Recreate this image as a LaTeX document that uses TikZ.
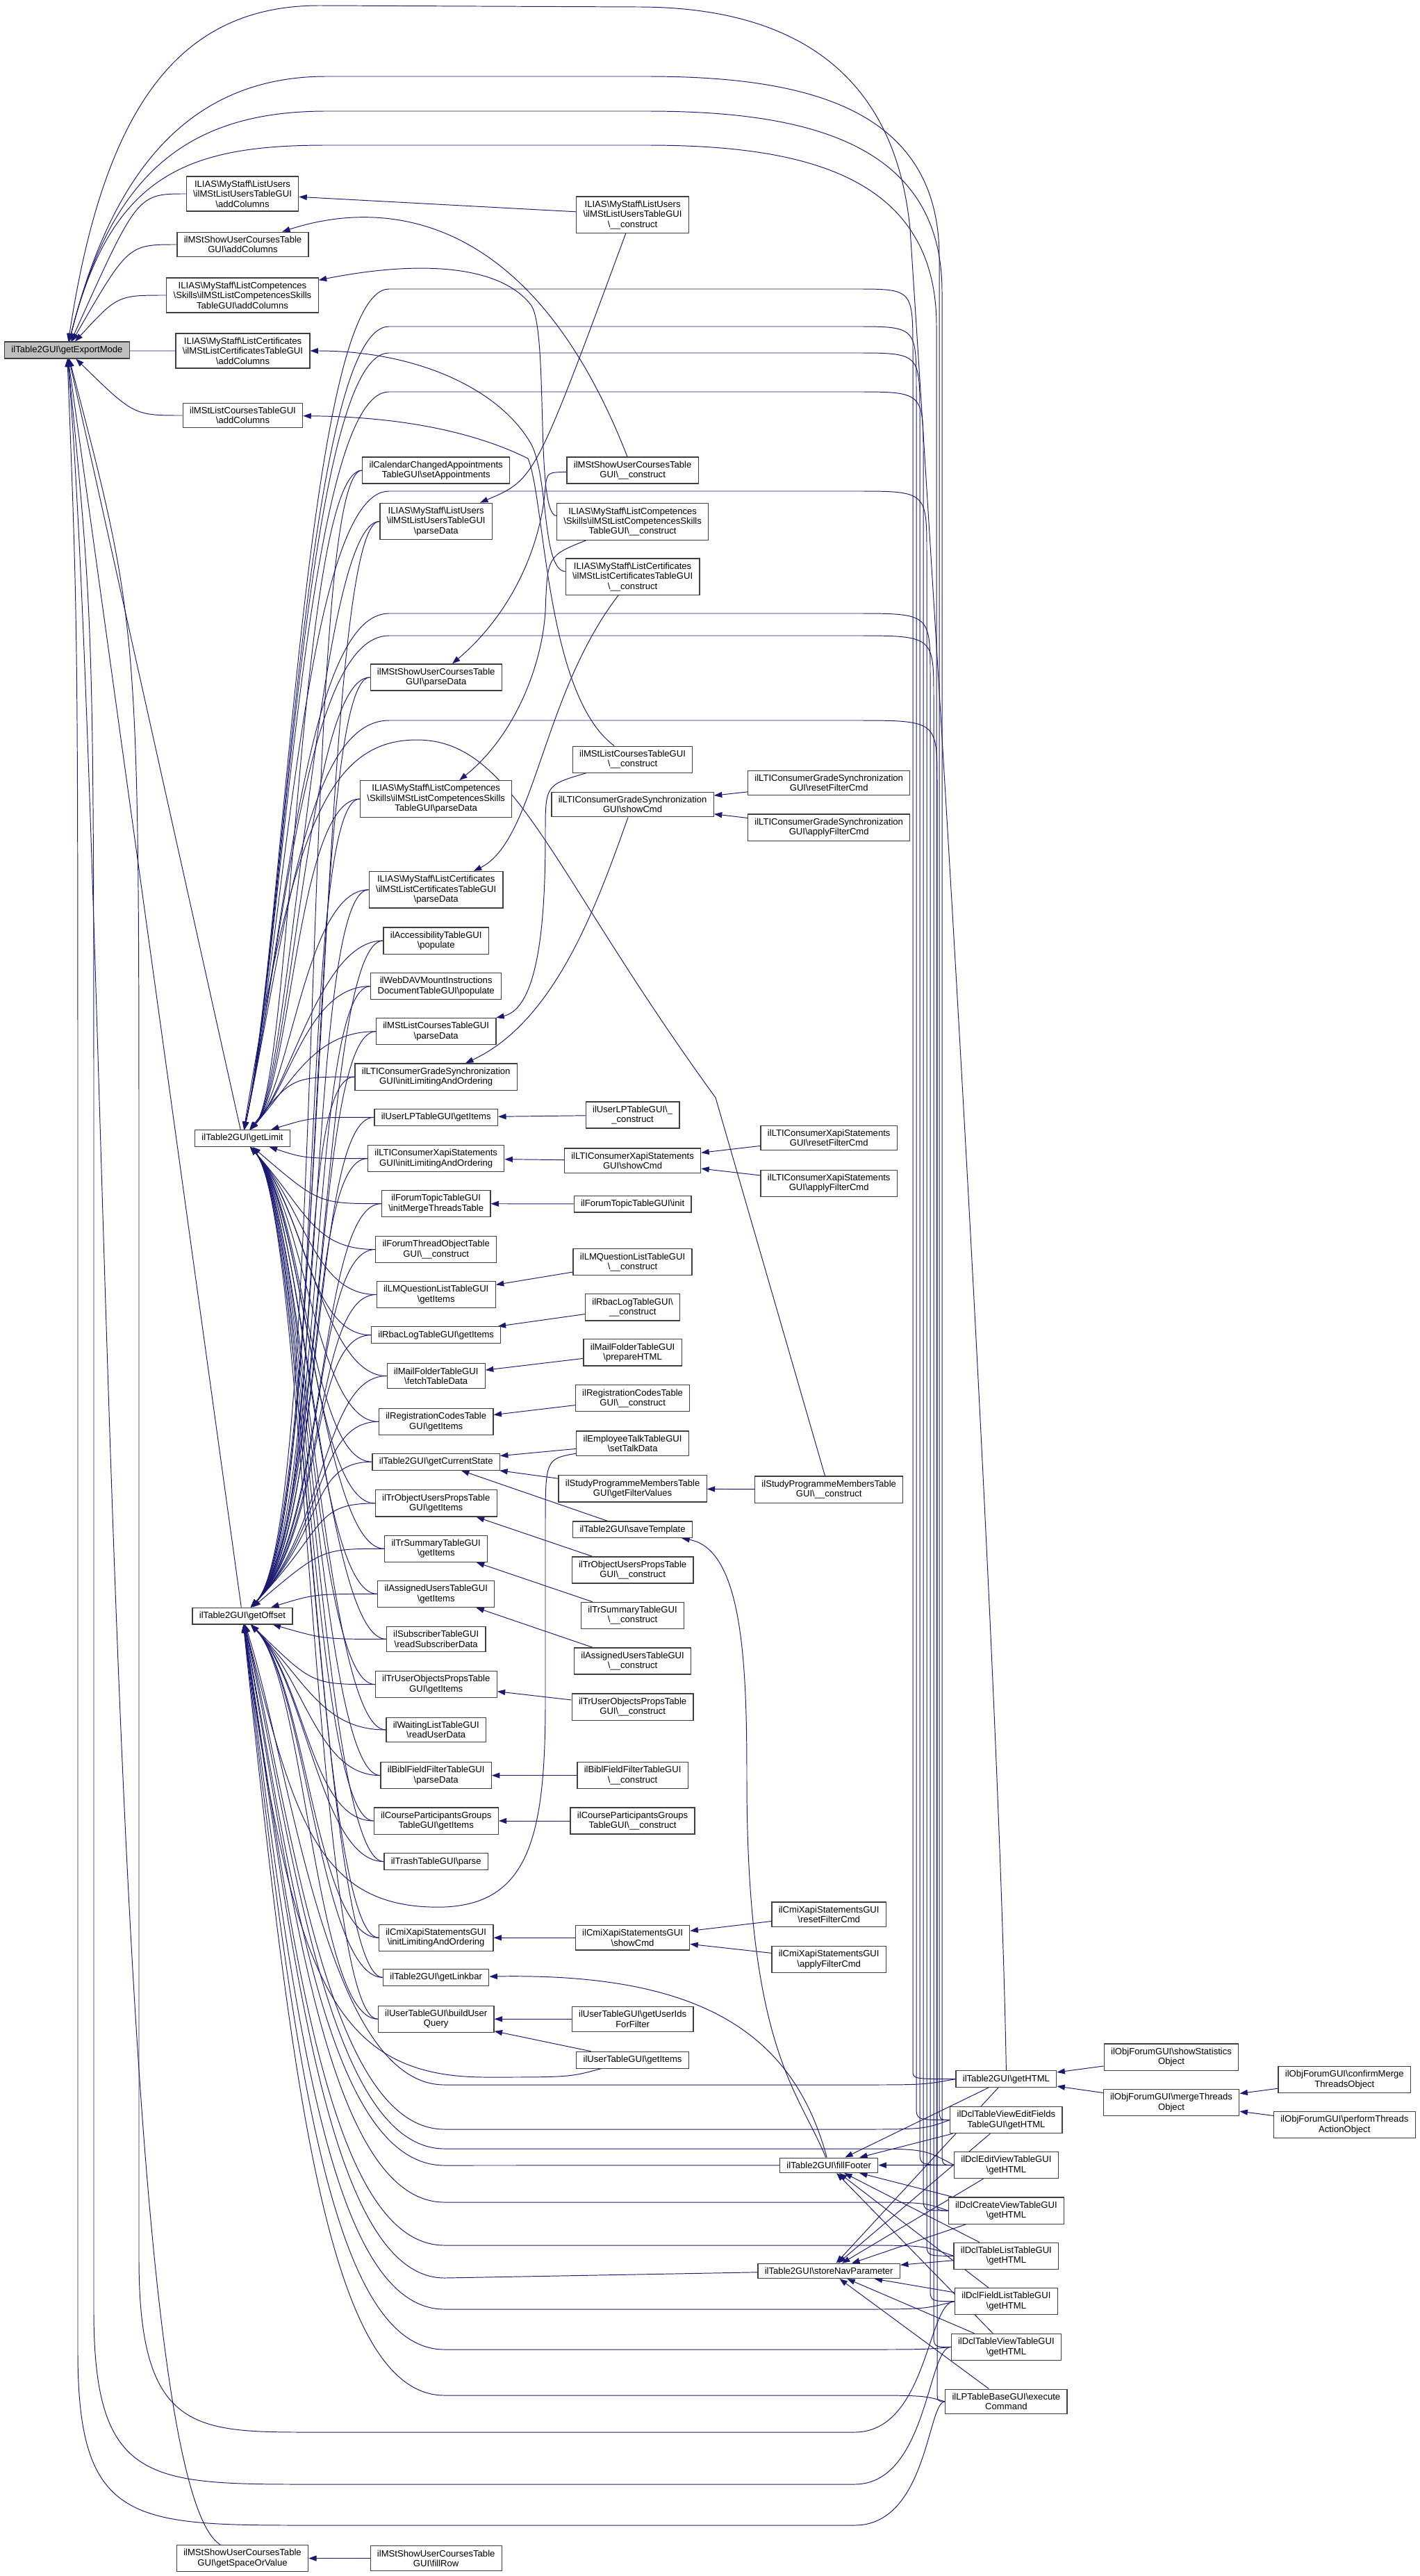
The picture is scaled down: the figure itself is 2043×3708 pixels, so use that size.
\documentclass[tikz,border=0pt]{standalone}
\usepackage{fontspec}
\setmainfont{Liberation Sans}
\usetikzlibrary{arrows.meta,calc}
\definecolor{EdgeClr}{RGB}{25,25,112}
\definecolor{BoxClr}{RGB}{64,64,64}
\definecolor{RootClr}{RGB}{191,191,191}
\newcommand{\bsl}{\textbackslash}
\pgfdeclarelayer{edges}
\pgfsetlayers{edges,main}

\begin{document}
\begin{tikzpicture}[x=0.02cm,y=-0.02cm,
  fn/.style={draw=BoxClr,line width=0.7pt,fill=white,align=center,
    inner xsep=5.6pt,inner ysep=3.3pt,font=\fontsize{7.45pt}{8.2pt}\selectfont},
  root/.style={fn,fill=RootClr},
  call/.style={draw=EdgeClr,line width=0.55pt,{Triangle[length=6.5pt,width=4.6pt]}-}]
\useasboundingbox (0,0) rectangle (2043,3708);

% root and first callers
\node[root] (exp) at (96.5,504) {ilTable2GUI\bsl getExportMode};
\node[fn] (luAdd) at (349,279) {ILIAS\bsl MyStaff\bsl ListUsers\\\bsl ilMStListUsersTableGUI\\\bsl addColumns};
\node[fn] (sucAdd) at (349.5,352) {ilMStShowUserCoursesTable\\GUI\bsl addColumns};
\node[fn] (compAdd) at (349,425) {ILIAS\bsl MyStaff\bsl ListCompetences\\\bsl Skills\bsl ilMStListCompetencesSkills\\TableGUI\bsl addColumns};
\node[fn] (certAdd) at (349.5,505) {ILIAS\bsl MyStaff\bsl ListCertificates\\\bsl ilMStListCertificatesTableGUI\\\bsl addColumns};
\node[fn] (lcAdd) at (349.5,598) {ilMStListCoursesTableGUI\\\bsl addColumns};
\node[fn] (limit) at (349,1638.5) {ilTable2GUI\bsl getLimit};
\node[fn] (offset) at (349,2326) {ilTable2GUI\bsl getOffset};
\node[fn] (space) at (349,3682.5) {ilMStShowUserCoursesTable\\GUI\bsl getSpaceOrValue};

% second column
\node[fn] (cal) at (627.7,677) {ilCalendarChangedAppointments\\TableGUI\bsl setAppointments};
\node[fn] (luParse) at (627.7,750.5) {ILIAS\bsl MyStaff\bsl ListUsers\\\bsl ilMStListUsersTableGUI\\\bsl parseData};
\node[fn] (sucParse) at (627.7,975) {ilMStShowUserCoursesTable\\GUI\bsl parseData};
\node[fn] (compParse) at (627.7,1150) {ILIAS\bsl MyStaff\bsl ListCompetences\\\bsl Skills\bsl ilMStListCompetencesSkills\\TableGUI\bsl parseData};
\node[fn] (certParse) at (627.7,1280.7) {ILIAS\bsl MyStaff\bsl ListCertificates\\\bsl ilMStListCertificatesTableGUI\\\bsl parseData};
\node[fn] (access) at (627.7,1354) {ilAccessibilityTableGUI\\\bsl populate};
\node[fn] (webdav) at (627.7,1419.6) {ilWebDAVMountInstructions\\DocumentTableGUI\bsl populate};
\node[fn] (lcParse) at (627.7,1484.7) {ilMStListCoursesTableGUI\\\bsl parseData};
\node[fn] (ltigInit) at (627.7,1550) {ilLTIConsumerGradeSynchronization\\GUI\bsl initLimitingAndOrdering};
\node[fn] (ulpItems) at (627.7,1608.3) {ilUserLPTableGUI\bsl getItems};
\node[fn] (ltixInit) at (627.7,1667.6) {ilLTIConsumerXapiStatements\\GUI\bsl initLimitingAndOrdering};
\node[fn] (ftInit) at (627.7,1732.6) {ilForumTopicTableGUI\\\bsl initMergeThreadsTable};
\node[fn] (fto) at (627.7,1798.5) {ilForumThreadObjectTable\\GUI\bsl\_\_construct};
\node[fn] (lmqItems) at (627.7,1863.5) {ilLMQuestionListTableGUI\\\bsl getItems};
\node[fn] (rbacItems) at (627.7,1921.7) {ilRbacLogTableGUI\bsl getItems};
\node[fn] (mailFetch) at (627.7,1980.6) {ilMailFolderTableGUI\\\bsl fetchTableData};
\node[fn] (regItems) at (627.7,2046.4) {ilRegistrationCodesTable\\GUI\bsl getItems};
\node[fn] (curState) at (627.7,2104.2) {ilTable2GUI\bsl getCurrentState};
\node[fn] (trouItems) at (627.7,2163.9) {ilTrObjectUsersPropsTable\\GUI\bsl getItems};
\node[fn] (trsItems) at (627.7,2229.3) {ilTrSummaryTableGUI\\\bsl getItems};
\node[fn] (auItems) at (627.7,2294.4) {ilAssignedUsersTableGUI\\\bsl getItems};
\node[fn] (subs) at (627.7,2359.4) {ilSubscriberTableGUI\\\bsl readSubscriberData};
\node[fn] (truoItems) at (627.7,2424.6) {ilTrUserObjectsPropsTable\\GUI\bsl getItems};
\node[fn] (wait) at (627.7,2490) {ilWaitingListTableGUI\\\bsl readUserData};
\node[fn] (biblParse) at (627.7,2555.6) {ilBiblFieldFilterTableGUI\\\bsl parseData};
\node[fn] (cpgItems) at (627.7,2621) {ilCourseParticipantsGroups\\TableGUI\bsl getItems};
\node[fn] (trash) at (627.7,2679.6) {ilTrashTableGUI\bsl parse};
\node[fn] (cmiInit) at (627.7,2789.2) {ilCmiXapiStatementsGUI\\\bsl initLimitingAndOrdering};
\node[fn] (linkbar) at (627.7,2846.4) {ilTable2GUI\bsl getLinkbar};
\node[fn] (userBuild) at (627.7,2906.3) {ilUserTableGUI\bsl buildUser\\Query};
\node[fn] (fillrow) at (627.7,3682.5) {ilMStShowUserCoursesTable\\GUI\bsl fillRow};

% third column
\node[fn] (luCon) at (910.6,309.2) {ILIAS\bsl MyStaff\bsl ListUsers\\\bsl ilMStListUsersTableGUI\\\bsl\_\_construct};
\node[fn] (sucCon) at (910.6,677) {ilMStShowUserCoursesTable\\GUI\bsl\_\_construct};
\node[fn] (compCon) at (910.6,751) {ILIAS\bsl MyStaff\bsl ListCompetences\\\bsl Skills\bsl ilMStListCompetencesSkills\\TableGUI\bsl\_\_construct};
\node[fn] (certCon) at (910.6,830.2) {ILIAS\bsl MyStaff\bsl ListCertificates\\\bsl ilMStListCertificatesTableGUI\\\bsl\_\_construct};
\node[fn] (lcCon) at (910.6,1093.2) {ilMStListCoursesTableGUI\\\bsl\_\_construct};
\node[fn] (ltigShow) at (910.6,1158) {ilLTIConsumerGradeSynchronization\\GUI\bsl showCmd};
\node[fn] (ulpCon) at (910.6,1605) {ilUserLPTableGUI\bsl\_\\\_construct};
\node[fn] (ltixShow) at (910.6,1670.7) {ilLTIConsumerXapiStatements\\GUI\bsl showCmd};
\node[fn] (ftInitF) at (910.6,1733) {ilForumTopicTableGUI\bsl init};
\node[fn] (lmqCon) at (910.6,1816.8) {ilLMQuestionListTableGUI\\\bsl\_\_construct};
\node[fn] (rbacCon) at (910.6,1881.9) {ilRbacLogTableGUI\bsl\\\_\_construct};
\node[fn] (mailPrep) at (910.6,1946.9) {ilMailFolderTableGUI\\\bsl prepareHTML};
\node[fn] (regCon) at (910.6,2012.8) {ilRegistrationCodesTable\\GUI\bsl\_\_construct};
\node[fn] (talk) at (910.6,2077.8) {ilEmployeeTalkTableGUI\\\bsl setTalkData};
\node[fn] (spFilter) at (910.6,2142.9) {ilStudyProgrammeMembersTable\\GUI\bsl getFilterValues};
\node[fn] (save) at (910.6,2201.8) {ilTable2GUI\bsl saveTemplate};
\node[fn] (trouCon) at (910.6,2260) {ilTrObjectUsersPropsTable\\GUI\bsl\_\_construct};
\node[fn] (trsCon) at (910.6,2325.3) {ilTrSummaryTableGUI\\\bsl\_\_construct};
\node[fn] (auCon) at (910.6,2391) {ilAssignedUsersTableGUI\\\bsl\_\_construct};
\node[fn] (truoCon) at (910.6,2457.1) {ilTrUserObjectsPropsTable\\GUI\bsl\_\_construct};
\node[fn] (biblCon) at (910.6,2555.6) {ilBiblFieldFilterTableGUI\\\bsl\_\_construct};
\node[fn] (cpgCon) at (910.6,2621) {ilCourseParticipantsGroups\\TableGUI\bsl\_\_construct};
\node[fn] (cmiShow) at (910.6,2789.2) {ilCmiXapiStatementsGUI\\\bsl showCmd};
\node[fn] (userIds) at (910.6,2906.3) {ilUserTableGUI\bsl getUserIds\\ForFilter};
\node[fn] (userItems) at (910.6,2965.2) {ilUserTableGUI\bsl getItems};

% fourth column
\node[fn] (ltigReset) at (1193.2,1127) {ilLTIConsumerGradeSynchronization\\GUI\bsl resetFilterCmd};
\node[fn] (ltigApply) at (1193.2,1191.2) {ilLTIConsumerGradeSynchronization\\GUI\bsl applyFilterCmd};
\node[fn] (ltixReset) at (1193.2,1638) {ilLTIConsumerXapiStatements\\GUI\bsl resetFilterCmd};
\node[fn] (ltixApply) at (1193.2,1703.3) {ilLTIConsumerXapiStatements\\GUI\bsl applyFilterCmd};
\node[fn] (spCon) at (1193.2,2144.1) {ilStudyProgrammeMembersTable\\GUI\bsl\_\_construct};
\node[fn] (cmiReset) at (1193.2,2755.7) {ilCmiXapiStatementsGUI\\\bsl resetFilterCmd};
\node[fn] (cmiApply) at (1193.2,2820.5) {ilCmiXapiStatementsGUI\\\bsl applyFilterCmd};
\node[fn] (fillFooter) at (1193.2,3116.7) {ilTable2GUI\bsl fillFooter};
\node[fn] (storeNav) at (1193.2,3268.9) {ilTable2GUI\bsl storeNavParameter};

% fifth column and beyond
\node[fn] (getHTML) at (1448.4,2992.6) {ilTable2GUI\bsl getHTML};
\node[fn] (dclVef) at (1448.4,3051.5) {ilDclTableViewEditFields\\TableGUI\bsl getHTML};
\node[fn] (dclEv) at (1448.4,3116.5) {ilDclEditViewTableGUI\\\bsl getHTML};
\node[fn] (dclCv) at (1448.4,3182) {ilDclCreateViewTableGUI\\\bsl getHTML};
\node[fn] (dclTl) at (1448.4,3247.3) {ilDclTableListTableGUI\\\bsl getHTML};
\node[fn] (dclFl) at (1448.4,3312.6) {ilDclFieldListTableGUI\\\bsl getHTML};
\node[fn] (dclTv) at (1448.4,3378.4) {ilDclTableViewTableGUI\\\bsl getHTML};
\node[fn] (lpExec) at (1448.4,3456.9) {ilLPTableBaseGUI\bsl execute\\Command};
\node[fn] (forumStat) at (1686,2961) {ilObjForumGUI\bsl showStatistics\\Object};
\node[fn] (forumMerge) at (1686,3026.4) {ilObjForumGUI\bsl mergeThreads\\Object};
\node[fn] (forumConfirm) at (1935.3,2993.6) {ilObjForumGUI\bsl confirmMerge\\ThreadsObject};
\node[fn] (forumPerform) at (1935.3,3058.6) {ilObjForumGUI\bsl performThreads\\ActionObject};

\begin{pgfonlayer}{edges}
% into getExportMode
\draw[call] (exp) -- (limit);
\draw[call] (exp) -- (offset);
\draw[call] (exp) .. controls (160,1300) and (150,3560) .. (space);
\foreach \n in {luAdd,sucAdd,compAdd,certAdd,lcAdd}
  \draw[call] (exp) .. controls ($(\n.west)+(-70,0)$) .. (\n.west);
\draw[call] (exp) .. controls (150,150) and (260,8) .. (460,8) -- (918,10) .. controls (1160,10) and (1290,120) .. (1310,330) .. controls (1380,1400) and (1440,2500) .. (getHTML.north);
\foreach \n/\yt/\xk in {dclVef/110/1352,dclEv/160/1356,dclCv/209/1348}
  \draw[call] (exp) .. controls (160,250) and (270,\yt) .. (470,\yt) -- (930,\yt) .. controls (1150,\yt) and (\xk,\yt+40) .. (\xk,\yt+260) -- (\xk,0 |- \n.north west) .. controls (\xk,0 |- \n.west) .. (\n.west);
\foreach \n/\xb/\yb in {dclFl/200/3501,dclTv/135/3576,lpExec/112/3635}
  \draw[call] (exp) .. controls (\xb,900) .. (\xb,1700) -- (\xb,\yb-250) .. controls (\xb,\yb) and (\xb+80,\yb) .. (450,\yb) -- (1230,\yb) .. controls (1335,\yb) and (1335,0 |- \n.west) .. (\n.west);

% into getLimit
\foreach \n in {cal,luParse,sucParse,compParse,certParse,access,webdav,lcParse}
  \draw[call] (limit) .. controls (420,1560) and ($(\n.west)+(-90,0)$) .. (\n.west);
\foreach \n in {ltigInit,ulpItems,ltixInit,ftInit}
  \draw[call] (limit) .. controls ($(\n.west)+(-90,0)$) .. (\n.west);
\foreach \n in {fto,lmqItems,rbacItems,mailFetch,regItems,curState,trouItems,trsItems,auItems,subs,truoItems,wait,biblParse,cpgItems,trash,cmiInit,linkbar,userBuild}
  \draw[call] (limit) .. controls (440,1740) and ($(\n.west)+(-90,0)$) .. (\n.west);
\foreach \n/\yk/\xk in {getHTML/416/1314,dclVef/470/1319,dclEv/508/1324,dclCv/564/1329,dclTl/707/1334,dclFl/883/1339,dclTv/915/1344,lpExec/1037/1349}
  \draw[call] (limit) .. controls (410,1350) and (440,\yk) .. (560,\yk) -- (1230,\yk) .. controls (\xk,\yk) .. (\xk,\yk+90) -- (\xk,0 |- \n.north west) .. controls (\xk,0 |- \n.west) .. (\n.west);
\draw[call] (limit) .. controls (420,1200) and (470,1065) .. (600,1065) .. controls (740,1065) and (790,1250) .. (1030,1580) -- (spCon);

% into getOffset
\foreach \n in {cal,luParse,sucParse,compParse,certParse,access,webdav,lcParse,ltigInit,ulpItems,ltixInit,ftInit,fto,lmqItems,rbacItems,mailFetch,regItems,curState,trouItems}
  \draw[call] (offset) .. controls (470,2200) and ($(\n.west)+(-90,0)$) .. (\n.west);
\foreach \n in {trsItems,auItems,subs,truoItems}
  \draw[call] (offset) .. controls ($(\n.west)+(-90,0)$) .. (\n.west);
\foreach \n in {wait,biblParse,cpgItems,trash,cmiInit,linkbar,userBuild}
  \draw[call] (offset) .. controls (440,2420) and ($(\n.west)+(-90,0)$) .. (\n.west);
\foreach \n/\yb in {getHTML/3001,dclVef/3065,dclEv/3093,dclCv/3170,dclTl/3232,dclFl/3324,dclTv/3382,lpExec/3448}
  \draw[call] (offset) .. controls (420,\yb-450) and (470,\yb) .. (640,\yb) -- (1230,\yb) .. controls (1330,\yb) .. (\n.west);
\draw[call] (offset) .. controls (420,2700) and (470,3117) .. (640,3117) -- (fillFooter);
\draw[call] (offset) .. controls (420,2800) and (470,3279) .. (640,3279) -- (storeNav);
\draw[call] (offset) .. controls (420,2600) and (450,2740) .. (620,2745) .. controls (760,2750) and (785,2650) .. (785,2450) -- (785,2200) .. controls (785,2100) .. (talk);
\draw[call] (offset) .. controls (420,2850) and (480,2990) .. (700,2990) .. controls (820,2990) .. (userItems);

% short calls
\foreach \a/\b in {luAdd/luCon,ulpItems/ulpCon,ltixInit/ltixShow,ftInit/ftInitF,lmqItems/lmqCon,rbacItems/rbacCon,mailFetch/mailPrep,regItems/regCon,curState/talk,curState/spFilter,curState/save,trouItems/trouCon,trsItems/trsCon,auItems/auCon,truoItems/truoCon,biblParse/biblCon,cpgItems/cpgCon,cmiInit/cmiShow,userBuild/userIds,userBuild/userItems,space/fillrow,ltigShow/ltigReset,ltigShow/ltigApply,ltixShow/ltixReset,ltixShow/ltixApply,cmiShow/cmiReset,cmiShow/cmiApply,spFilter/spCon,getHTML/forumStat,getHTML/forumMerge,forumMerge/forumConfirm,forumMerge/forumPerform}
  \draw[call] (\a) -- (\b);
\foreach \n in {getHTML,dclVef,dclEv,dclCv,dclTl,dclFl,dclTv}
  \draw[call] (fillFooter) -- (\n);
\foreach \n in {getHTML,dclVef,dclEv,dclCv,dclTl,dclFl,dclTv,lpExec}
  \draw[call] (storeNav) -- (\n);

% curved short calls
\draw[call] (sucAdd) .. controls (540,290) and (760,290) .. (sucCon);
\draw[call] (compAdd) .. controls (600,375) and (720,380) .. (765,440) .. controls (790,480) and (770,740) .. (compCon);
\draw[call] (certAdd) .. controls (600,505) and (720,560) .. (765,640) .. controls (790,690) and (780,820) .. (certCon);
\draw[call] (lcAdd) .. controls (600,600) and (700,630) .. (760,660) .. controls (785,720) and (785,1000) .. (lcCon);
\draw[call] (luParse) .. controls (770,690) .. (luCon);
\draw[call] (sucParse) .. controls (740,880) and (780,780) .. (785,700) .. controls (788,680) .. (sucCon);
\draw[call] (compParse) .. controls (740,1060) and (780,960) .. (785,880) .. controls (788,800) .. (compCon);
\draw[call] (certParse) .. controls (770,1210) and (780,1000) .. (certCon);
\draw[call] (lcParse) .. controls (780,1450) and (785,1300) .. (785,1200) .. controls (785,1130) .. (lcCon);
\draw[call] (ltigInit) .. controls (800,1470) and (860,1300) .. (ltigShow);
\draw[call] (save) .. controls (1070,2230) and (1075,2400) .. (1075,2560) .. controls (1075,2950) and (1150,3010) .. (fillFooter);
\draw[call] (linkbar) .. controls (1000,2840) and (1140,2920) .. (fillFooter);
\end{pgfonlayer}
\end{tikzpicture}
\end{document}
